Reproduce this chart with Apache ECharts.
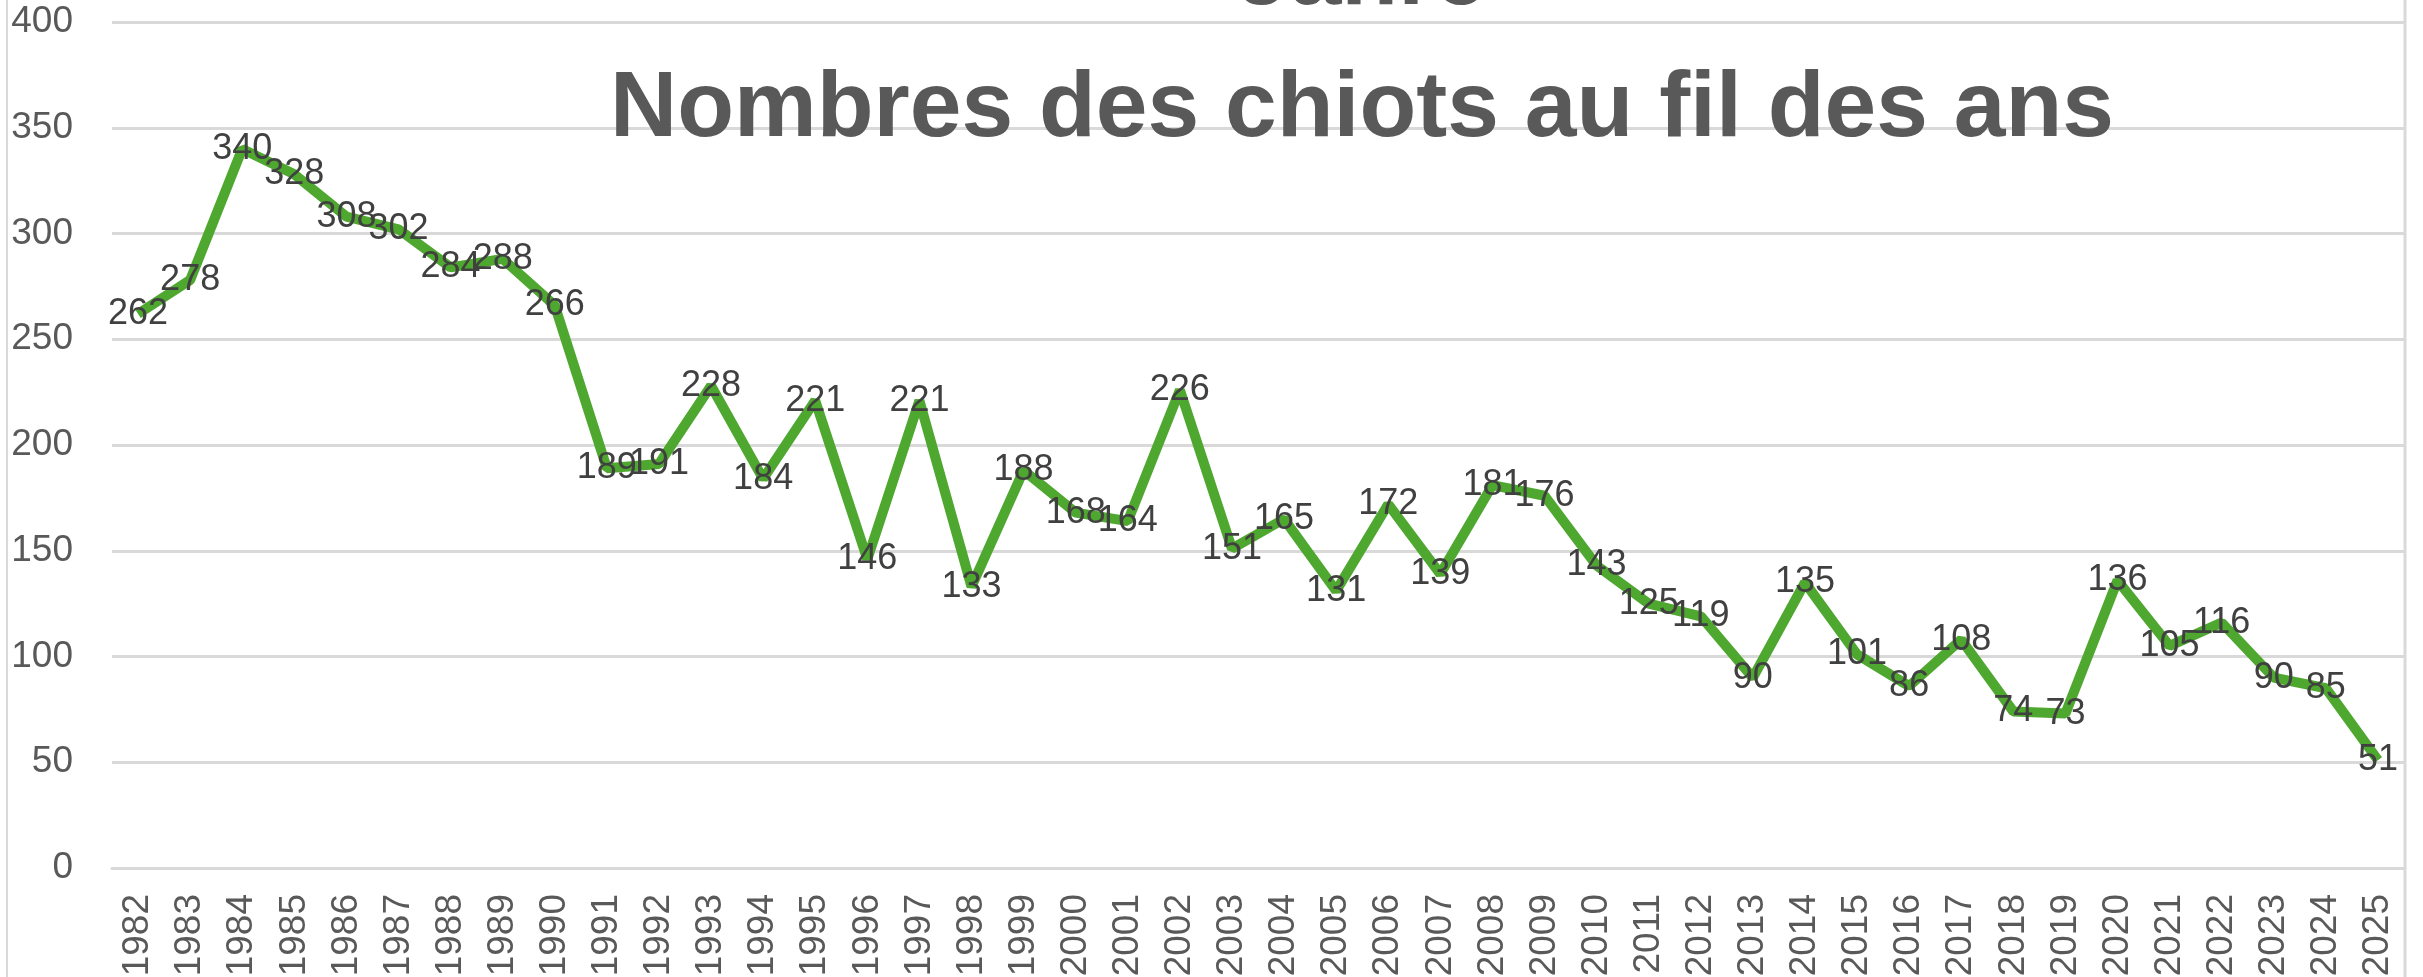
<!DOCTYPE html>
<html>
<head>
<meta charset="utf-8">
<script src="https://cdn.jsdelivr.net/npm/echarts@6/dist/echarts.min.js"></script>
<style>
  html, body { margin: 0; padding: 0; background: #fff; }
  #chart { width: 2423px; height: 977px; }
</style>
</head>
<body>
<div id="chart"></div>
<script>
  const years = ['1982', '1983', '1984', '1985', '1986', '1987', '1988', '1989', '1990', '1991',
    '1992', '1993', '1994', '1995', '1996', '1997', '1998', '1999', '2000', '2001',
    '2002', '2003', '2004', '2005', '2006', '2007', '2008', '2009', '2010', '2011',
    '2012', '2013', '2014', '2015', '2016', '2017', '2018', '2019', '2020', '2021',
    '2022', '2023', '2024', '2025']
  const chiots = [262, 278, 340, 328, 308, 302, 284, 288, 266, 189,
    191, 228, 184, 221, 146, 221, 133, 188, 168, 164,
    226, 151, 165, 131, 172, 139, 181, 176, 143, 125,
    119, 90, 135, 101, 86, 108, 74, 73, 136, 105,
    116, 90, 85, 51]
  const titleLines = ['Jahre', 'Nombres des chiots au fil des ans']

  const font = '"Liberation Sans", Arial, sans-serif'
  var myChart = echarts.init(document.getElementById('chart'));
  myChart.setOption({
    backgroundColor: '#ffffff',
    animation: false,
    title: {
      text: titleLines.join('\n'),
      left: 1362,
      top: -88,
      padding: 0,
      textAlign: 'center',
      textStyle: {
        fontFamily: font,
        fontSize: 93,
        fontWeight: 'bold',
        lineHeight: 132,
        color: '#595959'
      }
    },
    grid: {
      left: 112,
      right: 19,
      top: 22,
      bottom: 109,
      containLabel: false,
      outerBoundsMode: 'none'
    },
    xAxis: {
      type: 'category',
      data: years,
      axisLine: {
        show: true,
        lineStyle: { color: '#d9d9d9', width: 3 }
      },
      axisTick: { show: false },
      axisLabel: {
        interval: 0,
        rotate: 90,
        margin: 26,
        fontFamily: font,
        fontSize: 37,
        color: '#595959'
      }
    },
    yAxis: {
      type: 'value',
      min: 0,
      max: 400,
      interval: 50,
      axisLine: { show: false },
      axisTick: { show: false },
      axisLabel: {
        margin: 39,
        fontFamily: font,
        fontSize: 37,
        color: '#595959'
      },
      splitLine: {
        lineStyle: { color: '#d9d9d9', width: 3 }
      }
    },
    graphic: [
      { type: 'line', shape: { x1: 7, y1: 0, x2: 7, y2: 977 }, style: { stroke: '#d9d9d9', lineWidth: 2 } },
      { type: 'line', shape: { x1: 2405, y1: 0, x2: 2405, y2: 977 }, style: { stroke: '#d9d9d9', lineWidth: 3 } }
    ],
    series: [
      {
        name: 'Chiots',
        type: 'line',
        data: chiots,
        showSymbol: true,
        symbol: 'circle',
        symbolSize: 1,
        lineStyle: {
          color: '#4ea72e',
          width: 10
        },
        itemStyle: { color: 'rgba(0,0,0,0)' },
        label: {
          show: true,
          position: 'inside',
          offset: [0, 3],
          fontFamily: font,
          fontSize: 36,
          color: '#404040'
        },
        labelLayout: { hideOverlap: false }
      }
    ]
  });
</script>
</body>
</html>
